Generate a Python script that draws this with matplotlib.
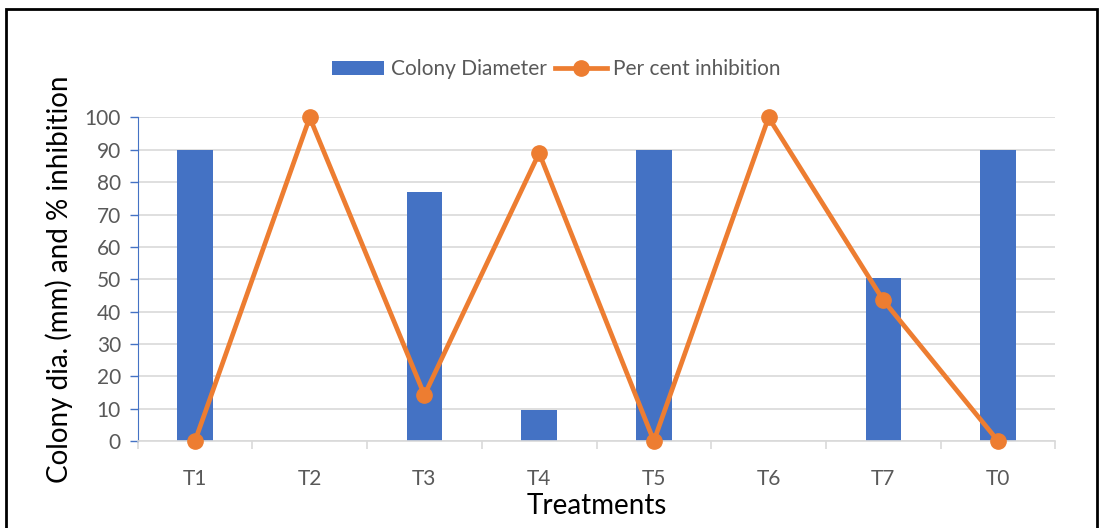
import matplotlib.pyplot as plt
from matplotlib.patches import Rectangle
import numpy as np

treatments = ['T1', 'T2', 'T3', 'T4', 'T5', 'T6', 'T7', 'T0']
colony_dia = [90, 0, 77, 9.6, 90, 0, 50.5, 90]
inhibition = [0, 100, 14.2, 89, 0, 100, 43.5, 0]

plt.rcParams['font.family'] = ['Lato', 'DejaVu Sans']

fig = plt.figure(figsize=(11.02, 5.28), dpi=100)
ax = fig.add_axes([0.1249, 0.1648, 0.8328, 0.6127])

x = np.arange(len(treatments))
bars = ax.bar(x, colony_dia, width=0.31, color='#4472C4', label='Colony Diameter', zorder=2)
line, = ax.plot(x, inhibition, color='#ED7D31', lw=3.4, marker='o', ms=11,
                label='Per cent inhibition', zorder=3, clip_on=False)

ax.set_xlim(-0.5, len(treatments) - 0.5)
ax.set_ylim(0, 100)
ax.set_yticks(range(0, 101, 10))
ax.set_xticks(x)
ax.set_xticklabels(treatments)
ax.set_xticks(np.arange(-0.5, len(treatments), 1), minor=True)
ax.tick_params(axis='x', which='major', length=0, pad=20, labelsize=15, labelcolor='#595959')
ax.tick_params(axis='x', which='minor', length=6, color='#D9D9D9', width=1.2)
ax.tick_params(axis='y', length=6, color='#4472C4', width=1, pad=6, labelsize=15, labelcolor='#595959')

ax.grid(axis='y', color='#D9D9D9', lw=1.2, zorder=0)
ax.set_axisbelow(True)
for s in ['top', 'right']:
    ax.spines[s].set_visible(False)
ax.spines['left'].set_color('#4472C4')
ax.spines['bottom'].set_color('#D9D9D9')
ax.spines['bottom'].set_linewidth(1.2)

ax.set_xlabel('Treatments', fontsize=20, labelpad=3)
ax.set_ylabel('Colony dia. (mm) and % inhibition', fontsize=20, labelpad=8)

fig.legend(handles=[bars, line], loc='center', bbox_to_anchor=(0.505, 0.869), ncol=2,
           frameon=False, fontsize=15, labelcolor='#595959', handlelength=2.5,
           handletextpad=0.3, columnspacing=0.4)

# black frame around the chart
fig.patches.append(Rectangle((6 / 1102, -0.01), 1091 / 1102, 1 - 9 / 528 + 0.01,
                             transform=fig.transFigure, fill=False, ec='black', lw=2))

fig.savefig('out.png', dpi=100)
